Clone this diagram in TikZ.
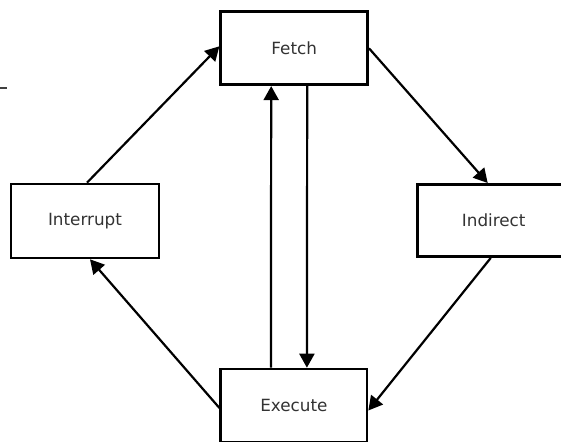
\documentclass[tikz,border=0pt]{standalone}
\usepackage{fontspec}
\setmainfont{DejaVu Sans}
\usetikzlibrary{arrows.meta}
\begin{document}
\begin{tikzpicture}[x=1pt,y=-1pt,
  stage/.style={draw=black, line width=2.6pt, fill=white, rectangle,
    minimum width=147pt, minimum height=73pt, inner sep=0pt,
    text=black!80, font=\fontsize{16.8}{18}\selectfont},
  flow/.style={line width=2.2pt, -{Triangle[length=14pt,width=15pt]}}]
  \useasboundingbox (0,0) rectangle (561,441);
  \clip (0,0) rectangle (561,441);
  \fill[white] (0,0) rectangle (561,441);

  % short rule at the left margin
  \draw[black!75, line width=1.6pt] (0,88) -- (7,88);

  % the four stages of the instruction cycle
  \node[stage] (fetch)     at (294.2,48.3)  {Fetch};
  \node[stage, minimum width=148pt, minimum height=74pt] (interrupt) at (85,221) {Interrupt};
  \node[stage, minimum width=152pt, minimum height=72.4pt] (indirect) at (493.7,220.5) {Indirect};
  \node[stage, minimum width=146.3pt] (execute) at (293.9,405.5) {Execute};

  % transitions
  \draw[flow] ([xshift=2pt]interrupt.north) -- ([yshift=2pt]fetch.west);
  \draw[flow] (fetch.east) -- ([xshift=-6pt]indirect.north);
  \draw[flow] ([xshift=-3pt]indirect.south) -- ([yshift=-5pt]execute.east);
  \draw[flow] ([yshift=-2.5pt]execute.west) -- ([xshift=5pt]interrupt.south);
  \draw[flow] ([xshift=-23pt]execute.north) -- ([xshift=-23pt]fetch.south);
  \draw[flow] ([xshift=13pt]fetch.south) -- ([xshift=13pt]execute.north);
\end{tikzpicture}
\end{document}
